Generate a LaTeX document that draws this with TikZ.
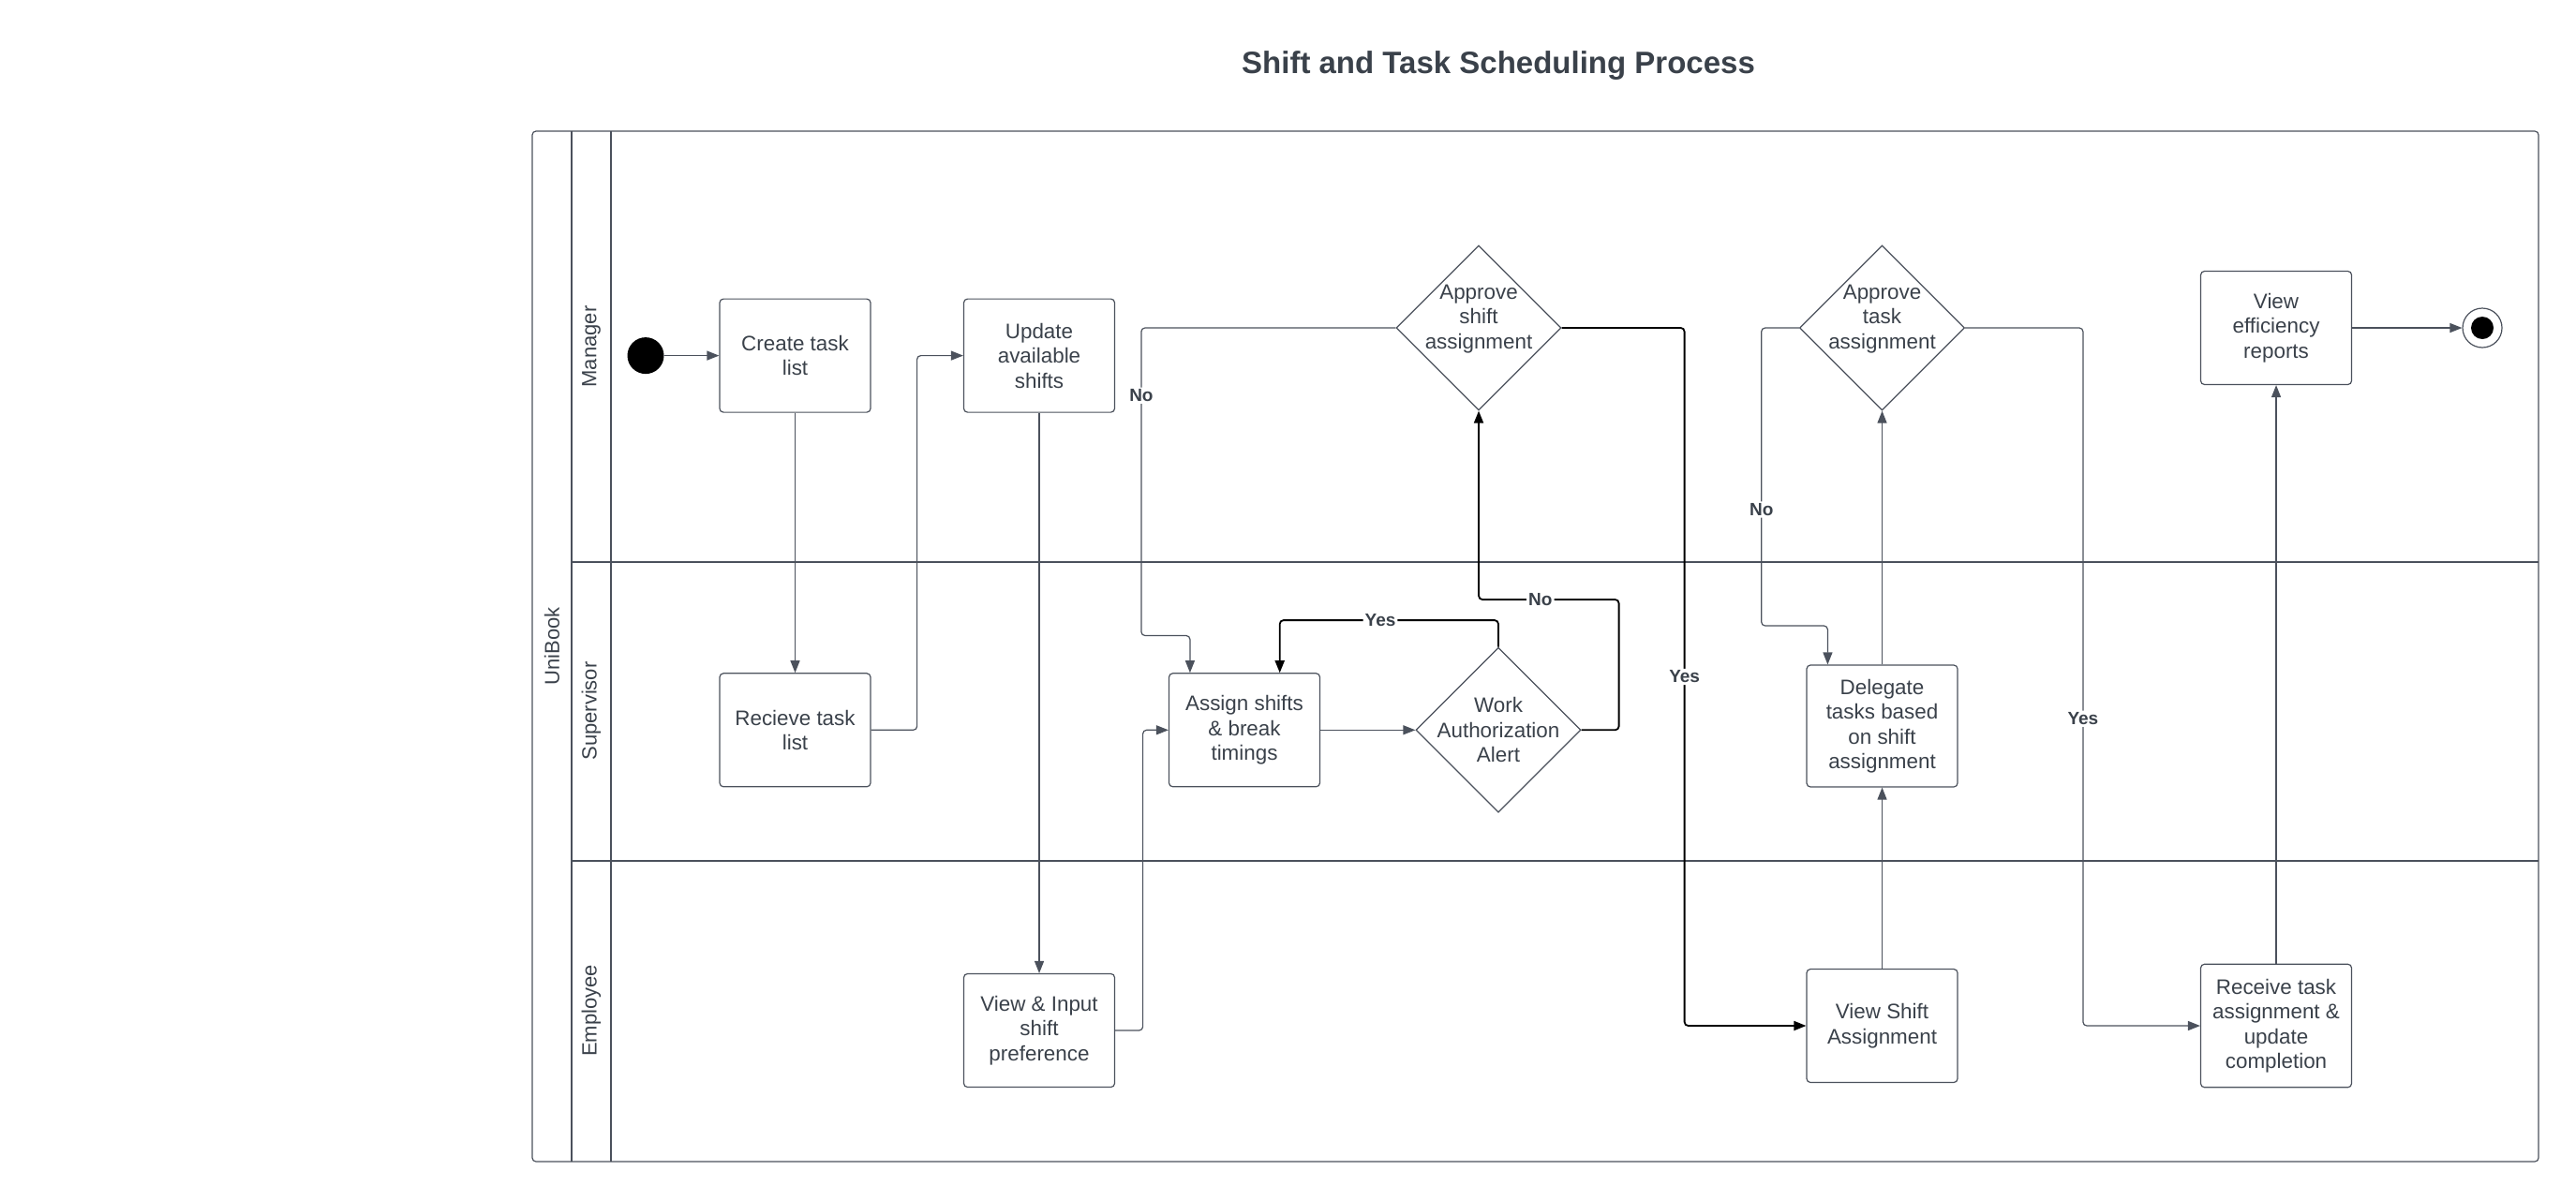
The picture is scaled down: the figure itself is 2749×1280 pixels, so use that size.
\documentclass[tikz,border=0pt]{standalone}
\usepackage{fontspec}
\setmainfont{Liberation Sans}
\usepackage{xcolor}
\usetikzlibrary{shapes.geometric, arrows.meta}

\definecolor{inkgray}{HTML}{3A414A}
\definecolor{linegray}{HTML}{4B515C}

\begin{document}
\begin{tikzpicture}[
    x=0.5pt, y=-0.5pt,
    font=\fontsize{11.2}{13.2}\selectfont, text=inkgray,
    activity/.style={draw=linegray, rectangle, rounded corners=2pt, minimum width=80.5pt, minimum height=60.5pt, align=center, inner sep=2pt, line width=0.6pt},
    decision/.style={draw=linegray, diamond, minimum size=88pt, inner sep=-5pt, align=center, line width=0.6pt},
    approval/.style={decision, text depth=12pt},
    startdot/.style={circle, fill=black, minimum size=19.5pt, inner sep=0pt},
    enddot/.style={circle, draw=linegray, line width=0.6pt, minimum size=21pt, inner sep=0pt, path picture={\fill[black] (path picture bounding box.center) circle (6pt);}},
    lanelabel/.style={rotate=90, font=\fontsize{11}{13}\selectfont},
    poolline/.style={draw=linegray, line width=0.6pt},
    arrow/.style={-{Triangle[length=6.5pt, width=5pt]}, draw=linegray, line width=0.6pt, rounded corners=2pt},
    boldarrow/.style={arrow, draw=black, line width=0.9pt},
    guard/.style={font=\bfseries\fontsize{9.5}{11}\selectfont, fill=white, inner sep=1pt}
]
\useasboundingbox (0,0) rectangle (2749,1280);

% Title
\node (title) [font=\bfseries\fontsize{16.5}{20}\selectfont] at (1599,70) {Shift and Task Scheduling Process};

% Pool and lanes
\draw [poolline, rounded corners=2pt] (568,140) rectangle (2709,1240);
\draw [poolline] (610,140) -- (610,1240);
\draw [poolline] (652,140) -- (652,1240);
\draw [poolline] (610,600) -- (2709,600);
\draw [poolline] (610,919) -- (2709,919);
\node (pool) [lanelabel] at (589,690) {UniBook};
\node (mgr) [lanelabel] at (631,370) {Manager};
\node (sup) [lanelabel] at (631,759) {Supervisor};
\node (emp) [lanelabel] at (631,1079) {Employee};

% Nodes Manager lane
\node (start) [startdot] at (689,379.6) {};
\node (create) [activity] at (848.5,379.6) {Create task\\list};
\node (update) [activity] at (1109,379.6) {Update\\available\\shifts};
\node (approveshift) [approval] at (1578,350) {Approve\\shift\\assignment};
\node (approvetask) [approval] at (2008.5,350) {Approve\\task\\assignment};
\node (reports) [activity] at (2429,350) {View\\efficiency\\reports};
\node (finish) [enddot] at (2649,350) {};

% Nodes Supervisor lane
\node (receive) [activity] at (848.5,779.3) {Recieve task\\list};
\node (assign) [activity] at (1328,779.3) {Assign shifts\\\& break\\timings};
\node (authalert) [decision] at (1599,779.3) {Work\\Authorization\\Alert};
\node (delegate) [activity, minimum height=65pt] at (2008.5,775) {Delegate\\tasks based\\on shift\\assignment};

% Nodes Employee lane
\node (preference) [activity] at (1109,1100) {View \& Input\\shift\\preference};
\node (viewshift) [activity] at (2008.5,1095) {View Shift\\Assignment};
\node (receivetask) [activity, minimum height=65.75pt] at (2429,1095) {Receive task\\assignment \&\\update\\completion};

% Paths
\draw [arrow] (start) -- (create);
\draw [arrow] (create) -- (receive);
\draw [arrow] (receive.east) -- ++(49,0) |- (update.west);
\draw [arrow] (update) -- (preference);
\draw [arrow] (preference.east) -- ++(29.5,0) |- (assign.west);
\draw [arrow] (assign) -- (authalert);
\draw [boldarrow] (authalert.north) -- ++(0,-28.6) -| ([xshift=18.85pt]assign.north) node [guard, pos=0.27] {Yes};
\draw [boldarrow] (authalert.east) -- ++(40,0) -- ++(0,-139.3) -| (approveshift.south) node [guard, pos=0.28] {No};
\draw [arrow] (approveshift.west) -- ++(-271.5,0) -- ++(0,328.5) node [guard, pos=0.22] {No} -| ([xshift=11.5pt]assign.north west);
\draw [boldarrow] (approveshift.east) -- ++(131,0) |- (viewshift.west) node [guard, pos=0.25] {Yes};
\draw [arrow] (viewshift) -- (delegate);
\draw [arrow] (delegate) -- (approvetask);
\draw [arrow] (approvetask.west) -- ++(-40.2,0) -- ++(0,318) node [guard, pos=0.61] {No} -| ([xshift=11.5pt]delegate.north west);
\draw [arrow] (approvetask.east) -- ++(125.8,0) |- (receivetask.west) node [guard, pos=0.28] {Yes};
\draw [arrow] (receivetask) -- (reports);
\draw [arrow] (reports) -- (finish);

\end{tikzpicture}
\end{document}
